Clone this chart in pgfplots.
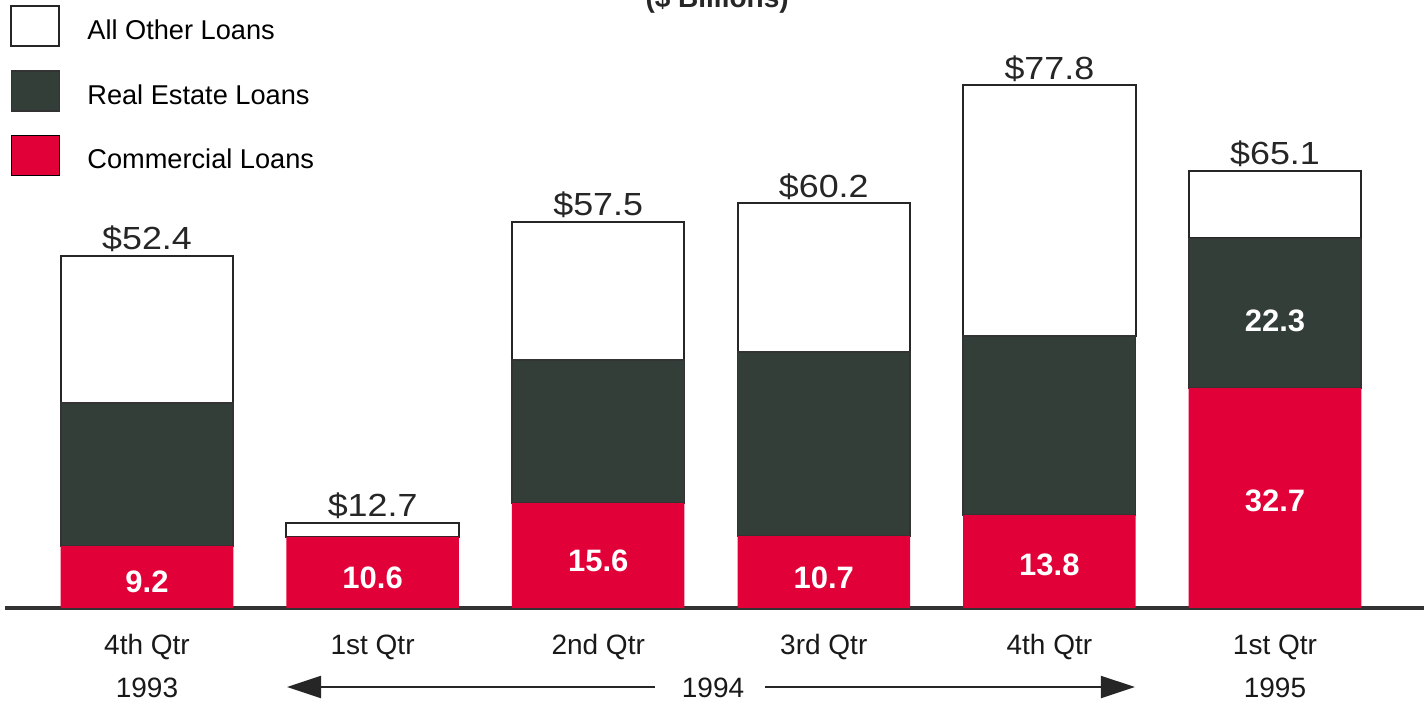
\documentclass[border=0pt]{standalone}
\usepackage{fontspec}
\setmainfont{Liberation Sans}
\newfontfamily\widefont[FakeStretch=1.12]{Liberation Sans}
\usepackage{pgfplots}
\pgfplotsset{compat=1.18}
\usetikzlibrary{arrows.meta}

\definecolor{loanred}{RGB}{226,0,56}
\definecolor{loandark}{RGB}{52,62,57}
\definecolor{axisgray}{RGB}{50,50,50}

\tikzset{
  total/.style={anchor=base, inner sep=0pt, yshift=3pt, text=black!85,
    font=\widefont\fontsize{16}{18}\selectfont},
  inbar/.style={text=white, font=\bfseries\fontsize{15.5}{17}\selectfont},
  yr/.style={anchor=base, text=black!90, font=\fontsize{14}{16}\selectfont},
}

\begin{document}
\begin{tikzpicture}
\begin{axis}[
  width=709.5pt, height=304pt,
  scale only axis,
  ybar stacked,
  bar width=0.765,
  xmin=-0.6294, xmax=5.6605,
  ymin=0, ymax=90.476,
  axis x line=bottom,
  axis y line=none,
  x axis line style={-, line width=2pt, draw=axisgray},
  xtick={0,1,2,3,4,5},
  xticklabels={4th Qtr,1st Qtr,2nd Qtr,3rd Qtr,4th Qtr,1st Qtr},
  xtick style={draw=none},
  xticklabel style={anchor=base, yshift=-21pt, font=\fontsize{14}{16}\selectfont, text=black!90},
  clip=false,
  reverse legend,
  legend cell align=left,
  legend style={at={(rel axis cs:0.0035,0.992)}, anchor=north west,
    draw=none, fill=none, inner sep=0pt, row sep=11.5pt,
    font=\fontsize{13.6}{16}\selectfont,
    /tikz/every odd column/.append style={column sep=11.5pt}},
  legend image code/.code={\draw[#1] (0pt,-7.5pt) rectangle (24pt,12.5pt);},
]

% commercial loans
\addplot[fill=loanred, draw=none] coordinates {
  (0,9.2) (1,10.6) (2,15.6) (3,10.7) (4,13.8) (5,32.7)
};
% real estate loans
\addplot[fill=loandark, draw=black!80, line width=0.8pt] coordinates {
  (0,21.3) (1,0) (2,21.3) (3,27.4) (4,26.7) (5,22.3)
};
% all other loans
\addplot[fill=white, draw=black!85, line width=1pt] coordinates {
  (0,21.9) (1,2.1) (2,20.6) (3,22.1) (4,37.3) (5,10.1)
};
\legend{Commercial Loans,Real Estate Loans,All Other Loans}

% totals
\node[total] at (axis cs:0,52.4) {\$52.4};
\node[total] at (axis cs:1,12.7) {\$12.7};
\node[total] at (axis cs:2,57.5) {\$57.5};
\node[total] at (axis cs:3,60.2) {\$60.2};
\node[total] at (axis cs:4,77.8) {\$77.8};
\node[total] at (axis cs:5,65.1) {\$65.1};

% positions of the values inside the bars
\coordinate (v1) at (axis cs:0,3.87);
\coordinate (v2) at (axis cs:1,4.46);
\coordinate (v3) at (axis cs:2,7.0);
\coordinate (v4) at (axis cs:3,4.46);
\coordinate (v5) at (axis cs:4,6.4);
\coordinate (v6) at (axis cs:5,15.9);
\coordinate (v7) at (axis cs:5,42.7);

% title (cut off at the top, as in the original)
\node[anchor=base, font=\bfseries\fontsize{14}{16}\selectfont, text=black!85] at (axis cs:2.527,89.4) {(\$ Billions)};

% years and arrows
\node[yr] at (axis cs:0,-13.39) {1993};
\node[yr] at (axis cs:2.509,-13.39) {1994};
\node[yr] at (axis cs:5,-13.39) {1995};
\draw[line width=1pt, black!85, -{Triangle[length=17pt, width=11pt]}] (axis cs:2.252,-11.76) -- (axis cs:0.6206,-11.76);
\draw[line width=1pt, black!85, -{Triangle[length=17pt, width=11pt]}] (axis cs:2.739,-11.76) -- (axis cs:4.379,-11.76);

\coordinate (bbl) at (axis cs:-0.6516,-14.435);
\coordinate (bbr) at (axis cs:5.6605,90.476);
\end{axis}
\node[inbar] at (v1) {9.2};
\node[inbar] at (v2) {10.6};
\node[inbar] at (v3) {15.6};
\node[inbar] at (v4) {10.7};
\node[inbar] at (v5) {13.8};
\node[inbar] at (v6) {32.7};
\node[inbar] at (v7) {22.3};
\pgfresetboundingbox
\path (bbl) rectangle (bbr);
\end{tikzpicture}
\end{document}
